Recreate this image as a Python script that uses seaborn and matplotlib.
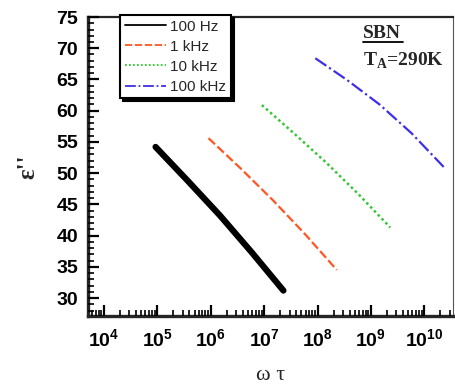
import numpy as np
import pandas as pd
import matplotlib
matplotlib.use("Agg")
import matplotlib.pyplot as plt
import matplotlib.ticker as mticker
from matplotlib.lines import Line2D
import seaborn as sns

# values
labels = ["100 Hz", "1 kHz", "10 kHz", "100 kHz"]
wt_100hz = [9.3e4, 3.7e5, 1.5e6, 5.9e6, 2.3e7]
eps_100hz = [54.2, 48.8, 43.2, 37.3, 31.2]
wt_1k = [9.1e5, 3.6e6, 1.45e7, 5.75e7, 2.3e8]
eps_1k = [55.6, 50.8, 45.7, 40.3, 34.5]
wt_10k = [9.1e6, 3.6e7, 1.45e8, 5.75e8, 2.3e9]
eps_10k = [60.9, 56.4, 51.7, 46.7, 41.3]
wt_100k = [9.1e7, 3.6e8, 1.45e9, 5.75e9, 2.3e10]
eps_100k = [68.4, 64.9, 61.0, 56.4, 51.0]

colors = ["black", "#FF5522", "#33C533", "#3F2FE8"]
styles = ["-", (0, (4, 1.5)), (0, (1, 1.2)), (0, (6, 1.5, 1, 1.5))]
widths = [4.5, 1.6, 1.8, 1.6]

sns.set_style("ticks")
plt.rcParams["mathtext.fontset"] = "custom"
plt.rcParams["mathtext.bf"] = "Liberation Sans:bold"
plt.rcParams["mathtext.rm"] = "Liberation Serif:bold"

fig, ax = plt.subplots(figsize=(4.55, 3.87), dpi=100)
fig.subplots_adjust(left=0.193, right=0.996, bottom=0.183, top=0.956)

series = [(wt_100hz, eps_100hz), (wt_1k, eps_1k), (wt_10k, eps_10k), (wt_100k, eps_100k)]
for (x, y), lab, c, ls, lw in zip(series, labels, colors, styles, widths):
    df = pd.DataFrame({"wt": x, "eps": y})
    sns.lineplot(data=df, x="wt", y="eps", ax=ax, color=c, linestyle=ls,
                 linewidth=lw, label=lab)

ax.set_xscale("log")
ax.set_xlim(10 ** 3.70, 10 ** 10.54)
ax.set_ylim(27.1, 75)

ax.xaxis.set_major_locator(mticker.FixedLocator([10.0 ** k for k in range(4, 11)]))
ax.xaxis.set_minor_locator(mticker.LogLocator(base=10, subs=np.arange(2, 10), numticks=100))
ax.xaxis.set_minor_formatter(mticker.NullFormatter())
ax.xaxis.set_major_formatter(mticker.FuncFormatter(
    lambda v, p: r"$\mathbf{10^{%d}}$" % round(np.log10(v))))
ax.yaxis.set_major_locator(mticker.MultipleLocator(5))
ax.yaxis.set_minor_locator(mticker.MultipleLocator(1))
ax.yaxis.set_major_formatter(mticker.FormatStrFormatter("%d"))

ax.spines["left"].set_linewidth(2.4)
ax.spines["bottom"].set_linewidth(2.4)
ax.spines["top"].set_linewidth(1.6)
ax.spines["right"].set_linewidth(0.8)
ax.spines["right"].set_color("#555555")
for s in ax.spines.values():
    s.set_visible(True)

ax.set_xlabel("ω τ", fontfamily="Liberation Serif", fontsize=16, labelpad=11)
ax.set_ylabel("ε''", fontfamily="Liberation Serif", fontweight="bold", fontsize=18,
              labelpad=12)

leg = ax.legend(loc="upper left", bbox_to_anchor=(0.088, 1.007), borderaxespad=0,
                fancybox=False, shadow={"color": "black", "alpha": 1},
                prop={"family": "Liberation Sans", "size": 11},
                handlelength=2.7, handletextpad=0.3, labelspacing=0.4,
                borderpad=0.3, framealpha=1)
leg.get_frame().set_edgecolor("black")
leg.get_frame().set_linewidth(1.5)
for h in leg.get_lines():
    h.set_linewidth(1.3)

ax.text(0.752, 0.945, "SBN", transform=ax.transAxes, fontfamily="Liberation Serif",
        fontweight="bold", fontsize=14, va="center", ha="left")
ax.add_line(Line2D([0.752, 0.862], [0.915, 0.915], transform=ax.transAxes,
                   color="black", linewidth=1.3))
ax.text(0.752, 0.855, r"T$_\mathrm{A}$=290K", transform=ax.transAxes,
        fontfamily="Liberation Serif", fontweight="bold", fontsize=14,
        va="center", ha="left")

# ticks last, pointing into the plot
ax.set_axisbelow(False)
ax.tick_params(axis="both", which="major", direction="in", length=8, width=1.6,
               color="black", labelsize=14, labelcolor="black",
               bottom=True, left=True, top=False, right=False)
ax.tick_params(axis="both", which="minor", direction="in", length=4.5, width=1.2,
               color="black", bottom=True, left=True, top=False, right=False)
ax.tick_params(axis="x", which="major", pad=9)
ax.tick_params(axis="y", which="major", pad=7)
for t in ax.get_yticklabels():
    t.set_fontfamily("Liberation Sans")
    t.set_fontweight("bold")

fig.savefig("out.png", dpi=100)
